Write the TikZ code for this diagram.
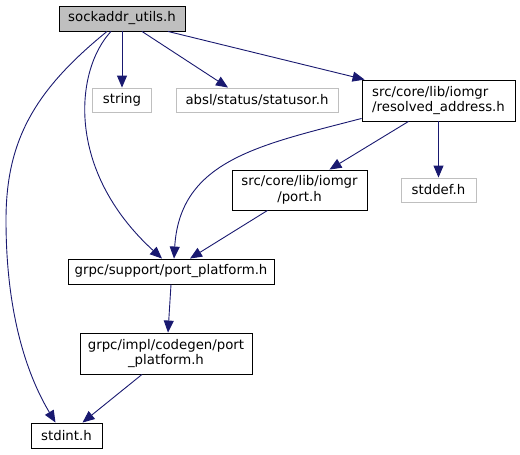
\documentclass[tikz,border=0pt]{standalone}
\usepackage{fontspec}
\setmainfont{DejaVu Sans}
\usetikzlibrary{arrows.meta}
\definecolor{edgeblue}{HTML}{191970}
\definecolor{boxgray}{HTML}{BFBFBF}
\tikzset{hdr/.style={draw=black, fill=white, line width=0.9pt, inner sep=0pt, font=\fontsize{13.3}{15.5}\selectfont},
  sys/.style={hdr, draw=boxgray},
  dep/.style={draw=edgeblue, line width=0.9pt, -{Triangle[length=12pt,width=10pt]}}}

\begin{document}
\begin{tikzpicture}[x=1pt,y=-1pt]
  \useasboundingbox (0,0) rectangle (520,455);
  % header nodes
  \node[hdr, fill=boxgray, minimum width=126pt, minimum height=25pt] (su) at (122,18.5) {sockaddr\_utils.h};
  \node[sys, minimum width=59pt, minimum height=24pt] (str) at (122,100) {string};
  \node[sys, minimum width=162pt, minimum height=24pt] (st) at (257,100) {absl/status/statusor.h};
  \node[hdr, minimum width=153pt, minimum height=41pt, align=left] (ra) at (438.5,100.5) {src/core/lib/iomgr\\/resolved\_address.h};
  \node[sys, minimum width=75pt, minimum height=24pt] (sd) at (438.5,190) {stddef.h};
  \node[hdr, minimum width=135pt, minimum height=40pt, align=center] (ph) at (299.5,190) {src/core/lib/iomgr\\/port.h};
  \node[hdr, minimum width=206pt, minimum height=25pt] (pp) at (171,271.5) {grpc/support/port\_platform.h};
  \node[hdr, minimum width=172pt, minimum height=41pt, align=center] (cg) at (166,353.5) {grpc/impl/codegen/port\\\_platform.h};
  \node[hdr, minimum width=71pt, minimum height=25pt] (si) at (66.5,435.5) {stdint.h};
  % includes
  \draw[dep] (su.south) -- (str.north);
  \draw[dep] ([xshift=20pt]su.south) -- ([xshift=-29pt]st.north);
  \draw[dep] ([xshift=46pt]su.south) -- ([xshift=3pt]ra.north west);
  \draw[dep] ([xshift=-11pt]su.south) .. controls (75,70) and (65,170) .. ([xshift=-9pt]pp.north);
  \draw[dep] ([xshift=-15pt]su.south) .. controls (35,90) and (6,140) .. (6,220) .. controls (6,320) and (30,380) .. ([xshift=-11pt]si.north);
  \draw[dep] ([yshift=3pt]ra.south west) .. controls (260,145) and (180,160) .. ([xshift=3pt]pp.north);
  \draw[dep] ([xshift=-30pt]ra.south) -- ([xshift=30pt]ph.north);
  \draw[dep] (ra.south) -- (sd.north);
  \draw[dep] ([xshift=-32pt]ph.south) -- ([xshift=19pt]pp.north);
  \draw[dep] (pp.south) -- ([xshift=2pt]cg.north);
  \draw[dep] ([xshift=-24pt]cg.south) -- ([xshift=16pt]si.north);
\end{tikzpicture}
\end{document}
